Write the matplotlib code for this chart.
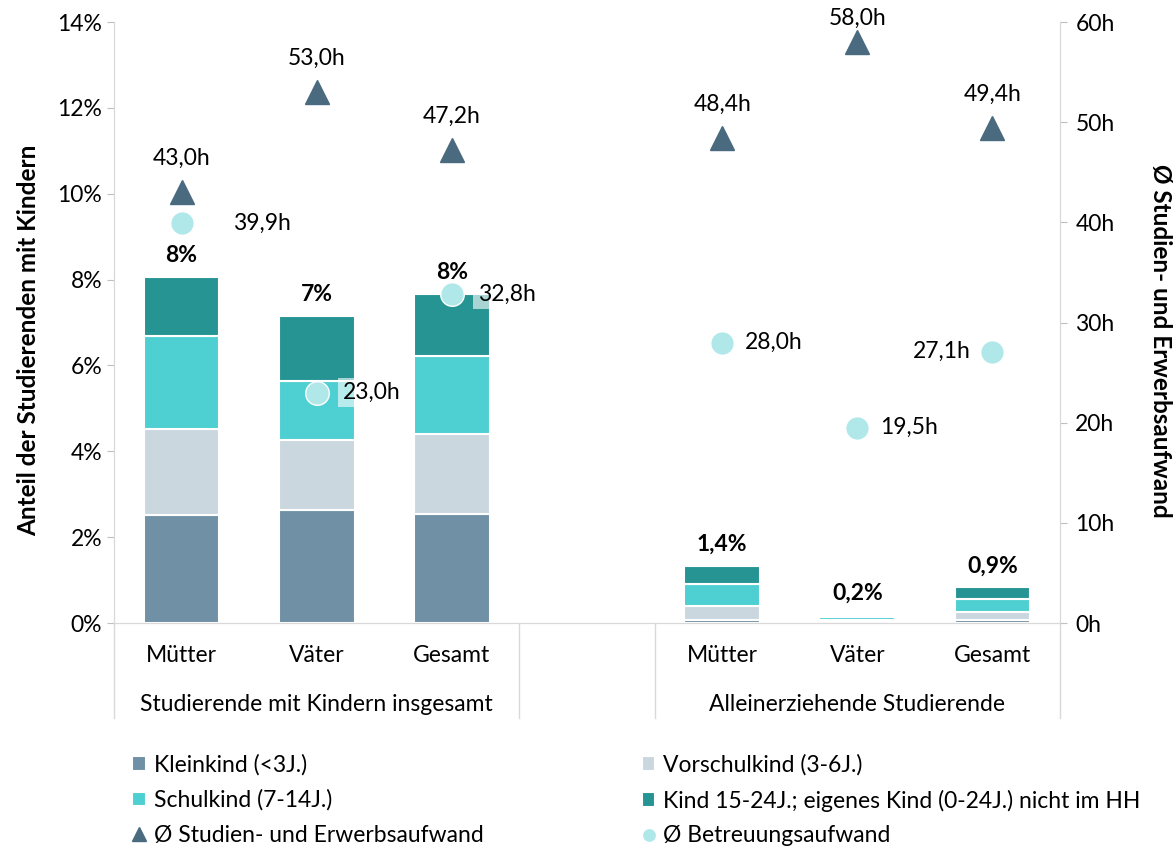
import matplotlib.pyplot as plt
from matplotlib.transforms import blended_transform_factory

plt.rcParams['font.family'] = ['Lato', 'DejaVu Sans']

# categories and groups
categories = ['Mütter', 'Väter', 'Gesamt', 'Mütter', 'Väter', 'Gesamt']
groups = ['Studierende mit Kindern insgesamt', 'Alleinerziehende Studierende']
positions = [0, 1, 2, 4, 5, 6]

# shares in percent (stacked)
kleinkind = [2.52, 2.63, 2.55, 0.07, 0.02, 0.06]
vorschulkind = [2.00, 1.64, 1.86, 0.32, 0.06, 0.20]
schulkind = [2.17, 1.37, 1.81, 0.53, 0.06, 0.30]
kind_15_24 = [1.38, 1.51, 1.44, 0.42, 0.05, 0.27]
total_labels = ['8%', '7%', '8%', '1,4%', '0,2%', '0,9%']

# hours
studien_erwerb = [43.0, 53.0, 47.2, 48.4, 58.0, 49.4]
betreuung = [39.9, 23.0, 32.8, 28.0, 19.5, 27.1]

series_names = ['Kleinkind (<3J.)', 'Vorschulkind (3-6J.)', 'Schulkind (7-14J.)',
                'Kind 15-24J.; eigenes Kind (0-24J.) nicht im HH']
colors = ['#6F90A5', '#CBD7DF', '#4ECFD1', '#279494']

fs = 16.5

fig = plt.figure(figsize=(11.73, 8.48), dpi=100)
ax = fig.add_axes([0.0972, 0.2653, 0.8065, 0.7087])
ax2 = ax.twinx()

bottom = [0] * 6
for vals, name, col in zip([kleinkind, vorschulkind, schulkind, kind_15_24], series_names, colors):
    ax.bar(positions, vals, 0.56, bottom=bottom, color=col, edgecolor='white',
           linewidth=1.5, label=name)
    bottom = [b + v for b, v in zip(bottom, vals)]

for x, top, lab in zip(positions, bottom, total_labels):
    ax.text(x, top + 0.5, lab, ha='center', va='center', fontsize=fs, fontweight='bold')

ax.set_ylim(0, 14)
ax.set_xlim(-0.5, 6.5)
ax.set_yticks(range(0, 15, 2))
ax.set_yticklabels([f'{v}%' for v in range(0, 15, 2)])
ax.set_ylabel('Anteil der Studierenden mit Kindern', fontsize=17.5, fontweight='bold')
ax.yaxis.set_label_coords(-0.078, 0.47)
ax.set_xticks(positions)
ax.set_xticklabels(categories)
ax.tick_params(axis='x', length=0, labelsize=fs, pad=16)
ax.tick_params(axis='y', labelsize=fs, color='#BFBFBF', length=5)

# hour markers on the right axis
ax2.plot(positions, studien_erwerb, linestyle='none', marker='^', markersize=17,
         color='#4A6A80', label='Ø Studien- und Erwerbsaufwand')
ax2.plot(positions, betreuung, linestyle='none', marker='o', markersize=17,
         markerfacecolor='#B0E8EA', markeredgecolor='white', markeredgewidth=1,
         label='Ø Betreuungsaufwand')
for i, (x, v) in enumerate(zip(positions, studien_erwerb)):
    off = 2.4 if i == 4 else 3.4
    ax2.text(x, v + off, f'{v:.1f}h'.replace('.', ','), ha='center', va='center', fontsize=fs)
circle_offsets = [0.38, 0.19, 0.19, 0.17, 0.17, -0.16]
for i, (x, v) in enumerate(zip(positions, betreuung)):
    lab = f'{v:.1f}h'.replace('.', ',')
    dx = circle_offsets[i]
    ha = 'right' if dx < 0 else 'left'
    if i in (1, 2):
        ax2.text(x + dx, v, lab, ha=ha, va='center', fontsize=fs,
                 bbox=dict(facecolor='white', edgecolor='none', alpha=0.6, pad=3))
    else:
        ax2.text(x + dx, v, lab, ha=ha, va='center', fontsize=fs)

ax2.set_ylim(0, 60)
ax2.set_yticks(range(0, 61, 10))
ax2.set_yticklabels([f'{v}h' for v in range(0, 61, 10)])
ax2.set_ylabel('Ø Studien- und Erwerbsaufwand', fontsize=17.5, fontweight='bold',
               rotation=270, va='center')
ax2.yaxis.set_label_coords(1.106, 0.47)
ax2.tick_params(axis='y', labelsize=fs, color='#BFBFBF', length=5, pad=6)

for a in (ax, ax2):
    a.spines['top'].set_visible(False)
    for s in ('left', 'right', 'bottom'):
        a.spines[s].set_color('#D9D9D9')

# group separators and group labels
trans = blended_transform_factory(ax.transData, ax.transAxes)
for xs in (-0.5, 2.5, 3.5, 6.5):
    ax.plot([xs, xs], [0, -0.158], transform=trans, color='#D9D9D9', linewidth=1, clip_on=False)
ax.text(1, -0.135, groups[0], transform=trans, ha='center', va='center', fontsize=fs)
ax.text(5, -0.135, groups[1], transform=trans, ha='center', va='center', fontsize=fs)

# legend
h1, l1 = ax.get_legend_handles_labels()
h2, l2 = ax2.get_legend_handles_labels()
handles = [h1[0], h1[2], h2[0], h1[1], h1[3], h2[1]]
labels = [l1[0], l1[2], l2[0], l1[1], l1[3], l2[1]]
leg = fig.legend(handles, labels, ncol=2, loc='upper left', bbox_to_anchor=(0.095, 0.135),
                 frameon=False, fontsize=fs, handlelength=0.6, handleheight=0.6,
                 handletextpad=0.35, columnspacing=6.9, labelspacing=0.6, markerscale=0.6)

fig.savefig('out.png', dpi=100)
